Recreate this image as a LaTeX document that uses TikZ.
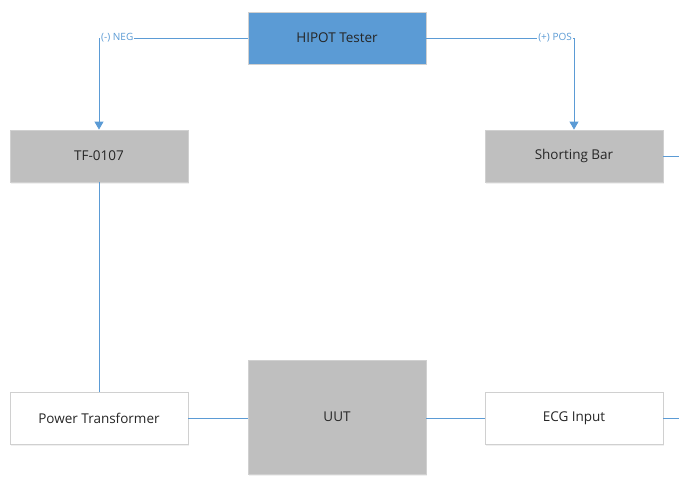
\documentclass[tikz,border=0pt]{standalone}
\usepackage{fontspec}
\setmainfont{Open Sans}
\usetikzlibrary{arrows.meta,shadows}
\definecolor{lineblue}{HTML}{5B9BD5}
\definecolor{boxgray}{HTML}{BFBFBF}
\definecolor{edgegray}{HTML}{D0D0D0}
\definecolor{txt}{HTML}{262626}
\tikzset{
  blk/.style={draw=edgegray, line width=0.8pt, minimum width=178pt, minimum height=52pt, inner sep=0pt, font=\fontsize{13.5}{16}\selectfont, text=txt,
    drop shadow={shadow xshift=1pt, shadow yshift=-1.5pt, opacity=0.12}},
  graybox/.style={blk, fill=boxgray},
  whitebox/.style={blk, fill=white},
  bluebox/.style={blk, fill=lineblue},
  wire/.style={draw=lineblue, line width=0.9pt},
  arr/.style={wire, -{Triangle[length=8pt,width=9pt]}},
  lbl/.style={font=\fontsize{10}{12}\selectfont, text=lineblue, fill=white, inner sep=1pt}
}
\begin{document}
\begin{tikzpicture}[x=1pt,y=-1pt]
\useasboundingbox (0,0) rectangle (679,481);
\node[bluebox] (hipot) at (337,38) {HIPOT Tester};
\node[graybox] (tf) at (99,156) {TF-0107};
\node[graybox] (sb) at (574,156) {Shorting Bar};
\node[whitebox] (pt) at (99,418) {Power Transformer};
\node[graybox, minimum height=114pt] (uut) at (337,417) {UUT};
\node[whitebox] (ecg) at (574,418) {ECG Input};
\coordinate (sbend) at (679,156);
\coordinate (ecgend) at (679,418);
\draw[arr] (hipot.west) -| (tf.north);
\draw[arr] (hipot.east) -| (sb.north);
\node[lbl, anchor=west] (neg) at (100,38) {(-) NEG};
\node[lbl, anchor=east] (pos) at (573,38) {(+) POS};
\draw[wire] (tf.south) -- (pt.north);
\draw[wire] (pt.east) -- (uut.west |- pt.east);
\draw[wire] (uut.east |- ecg.west) -- (ecg.west);
\draw[wire] (sb.east) -- (sbend);
\draw[wire] (ecg.east) -- (ecgend);
\end{tikzpicture}
\end{document}
